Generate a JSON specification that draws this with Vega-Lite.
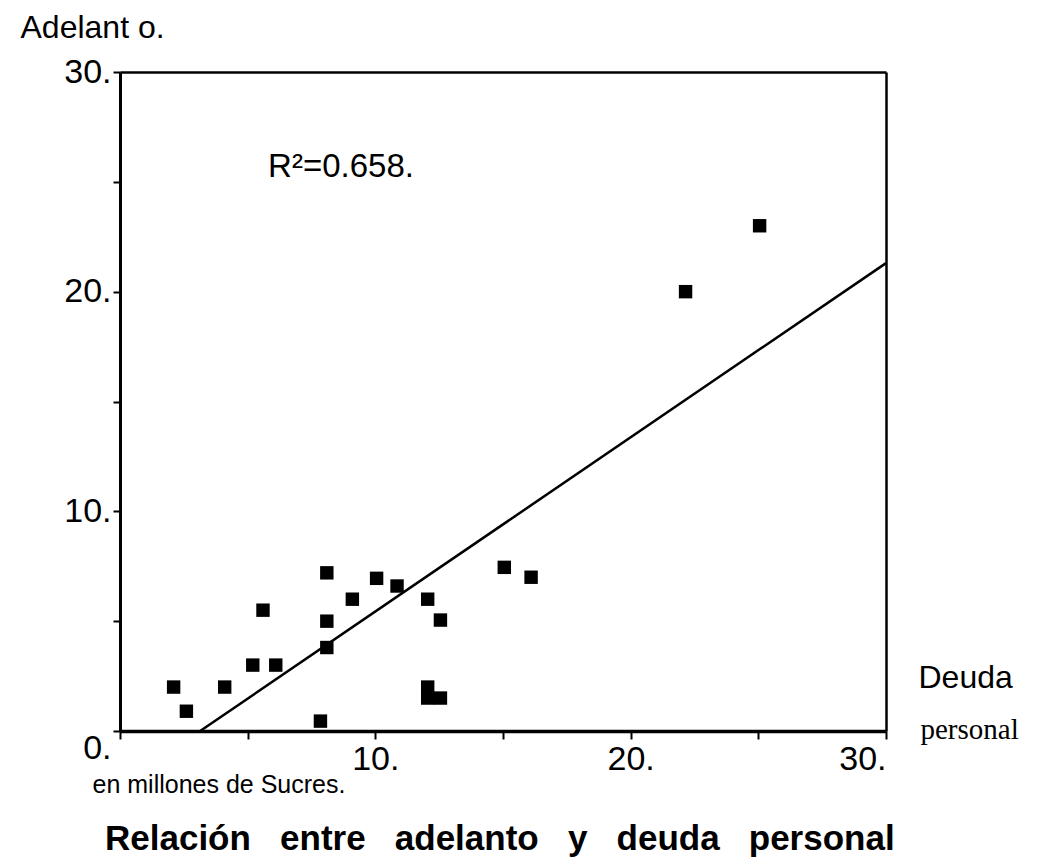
{
  "$schema": "https://vega.github.io/schema/vega-lite/v6.json",
  "width": 766,
  "height": 659,
  "autosize": {"type": "none"},
  "padding": {"left": 120, "top": 72, "right": 165, "bottom": 129},
  "background": "white",
  "config": {
    "view": {"stroke": null},
    "font": "Liberation Sans",
    "axis": {"grid": false, "domainColor": "black", "tickColor": "black", "labelColor": "black", "titleColor": "black", "labelFont": "Liberation Sans", "titleFont": "Liberation Sans", "titleFontWeight": "normal"}
  },
  "datasets": {
    "points": [
      {"deuda": 2.1, "adelanto": 2.0},
      {"deuda": 2.6, "adelanto": 0.9},
      {"deuda": 4.1, "adelanto": 2.0},
      {"deuda": 5.2, "adelanto": 3.0},
      {"deuda": 6.1, "adelanto": 3.0},
      {"deuda": 5.6, "adelanto": 5.5},
      {"deuda": 8.1, "adelanto": 7.2},
      {"deuda": 8.1, "adelanto": 5.0},
      {"deuda": 8.1, "adelanto": 3.8},
      {"deuda": 7.85, "adelanto": 0.45},
      {"deuda": 9.1, "adelanto": 6.0},
      {"deuda": 10.05, "adelanto": 6.95},
      {"deuda": 10.85, "adelanto": 6.6},
      {"deuda": 12.05, "adelanto": 6.0},
      {"deuda": 12.55, "adelanto": 5.05},
      {"deuda": 12.05, "adelanto": 2.0},
      {"deuda": 12.05, "adelanto": 1.5},
      {"deuda": 12.55, "adelanto": 1.5},
      {"deuda": 15.05, "adelanto": 7.45},
      {"deuda": 16.1, "adelanto": 7.0},
      {"deuda": 22.15, "adelanto": 20.0},
      {"deuda": 25.05, "adelanto": 23.0}
    ],
    "fit": [
      {"deuda": 3.14, "adelanto": 0},
      {"deuda": 30, "adelanto": 21.3}
    ],
    "note": [
      {"deuda": 5.8, "adelanto": 25.2, "label": "R²=0.658."}
    ]
  },
  "title": {
    "text": "Relación\u00a0\u00a0\u00a0entre\u00a0\u00a0\u00a0adelanto\u00a0\u00a0\u00a0y\u00a0\u00a0\u00a0deuda\u00a0\u00a0\u00a0personal",
    "orient": "bottom",
    "anchor": "start",
    "frame": "group",
    "font": "Liberation Sans",
    "fontSize": 35,
    "fontWeight": "bold",
    "color": "black",
    "offset": 0,
    "dx": -15,
    "dy": 25
  },
  "resolve": {"axis": {"x": "independent", "y": "independent"}},
  "layer": [
    {
      "data": {"name": "points"},
      "mark": {"type": "point", "shape": "square", "filled": true, "color": "black", "opacity": 1, "size": 180},
      "encoding": {
        "x": {"field": "deuda", "type": "quantitative", "scale": {"domain": [0, 30], "nice": false, "zero": false},
          "axis": {"orient": "bottom", "values": [0, 5, 10, 15, 20, 25, 30], "labelExpr": "datum.value % 10 == 0 && datum.value != 0 ? datum.value + '.' : ''",
            "domainWidth": 3.5, "tickSize": 8, "tickWidth": 2, "labelFontSize": 34, "labelPadding": 3,
            "title": "Deuda", "titleFontSize": 32, "titleX": 798, "titleY": -44, "titleAlign": "left", "titleBaseline": "alphabetic", "titleAnchor": null}},
        "y": {"field": "adelanto", "type": "quantitative", "scale": {"domain": [0, 30], "nice": false, "zero": false},
          "axis": {"orient": "left", "values": [0, 5, 10, 15, 20, 25, 30], "labelExpr": "datum.value % 10 == 0 ? datum.value + '.' : ''",
            "labelBaseline": {"condition": {"test": "datum.value == 0", "value": "top"}, "value": "middle"},
            "domainWidth": 3, "tickSize": 7, "tickWidth": 2, "labelFontSize": 34, "labelPadding": 2,
            "title": "Adelant o.", "titleFontSize": 32, "titleAngle": 0, "titleX": -100, "titleY": -35, "titleAlign": "left", "titleBaseline": "alphabetic", "titleAnchor": null}}
      }
    },
    {
      "data": {"name": "fit"},
      "mark": {"type": "line", "color": "black", "strokeWidth": 2.5},
      "encoding": {
        "x": {"field": "deuda", "type": "quantitative", "scale": {"domain": [0, 30], "nice": false, "zero": false},
          "axis": {"orient": "top", "labels": false, "ticks": false, "domainWidth": 2.5,
            "title": "personal", "titleFont": "Liberation Serif", "titleFontSize": 29, "titleX": 800, "titleY": 666, "titleAlign": "left", "titleBaseline": "alphabetic", "titleAnchor": null}},
        "y": {"field": "adelanto", "type": "quantitative", "scale": {"domain": [0, 30], "nice": false, "zero": false},
          "axis": {"orient": "right", "labels": false, "ticks": false, "domainWidth": 2.5,
            "title": "en millones de Sucres.", "titleFontSize": 25, "titleAngle": 0, "titleX": -794, "titleY": 720, "titleAlign": "left", "titleBaseline": "alphabetic", "titleAnchor": null}}
      }
    },
    {
      "data": {"name": "note"},
      "mark": {"type": "text", "align": "left", "baseline": "alphabetic", "fontSize": 33, "color": "black", "font": "Liberation Sans"},
      "encoding": {
        "x": {"field": "deuda", "type": "quantitative", "scale": {"domain": [0, 30]}, "axis": null},
        "y": {"field": "adelanto", "type": "quantitative", "scale": {"domain": [0, 30]}, "axis": null},
        "text": {"field": "label"}
      }
    }
  ]
}
